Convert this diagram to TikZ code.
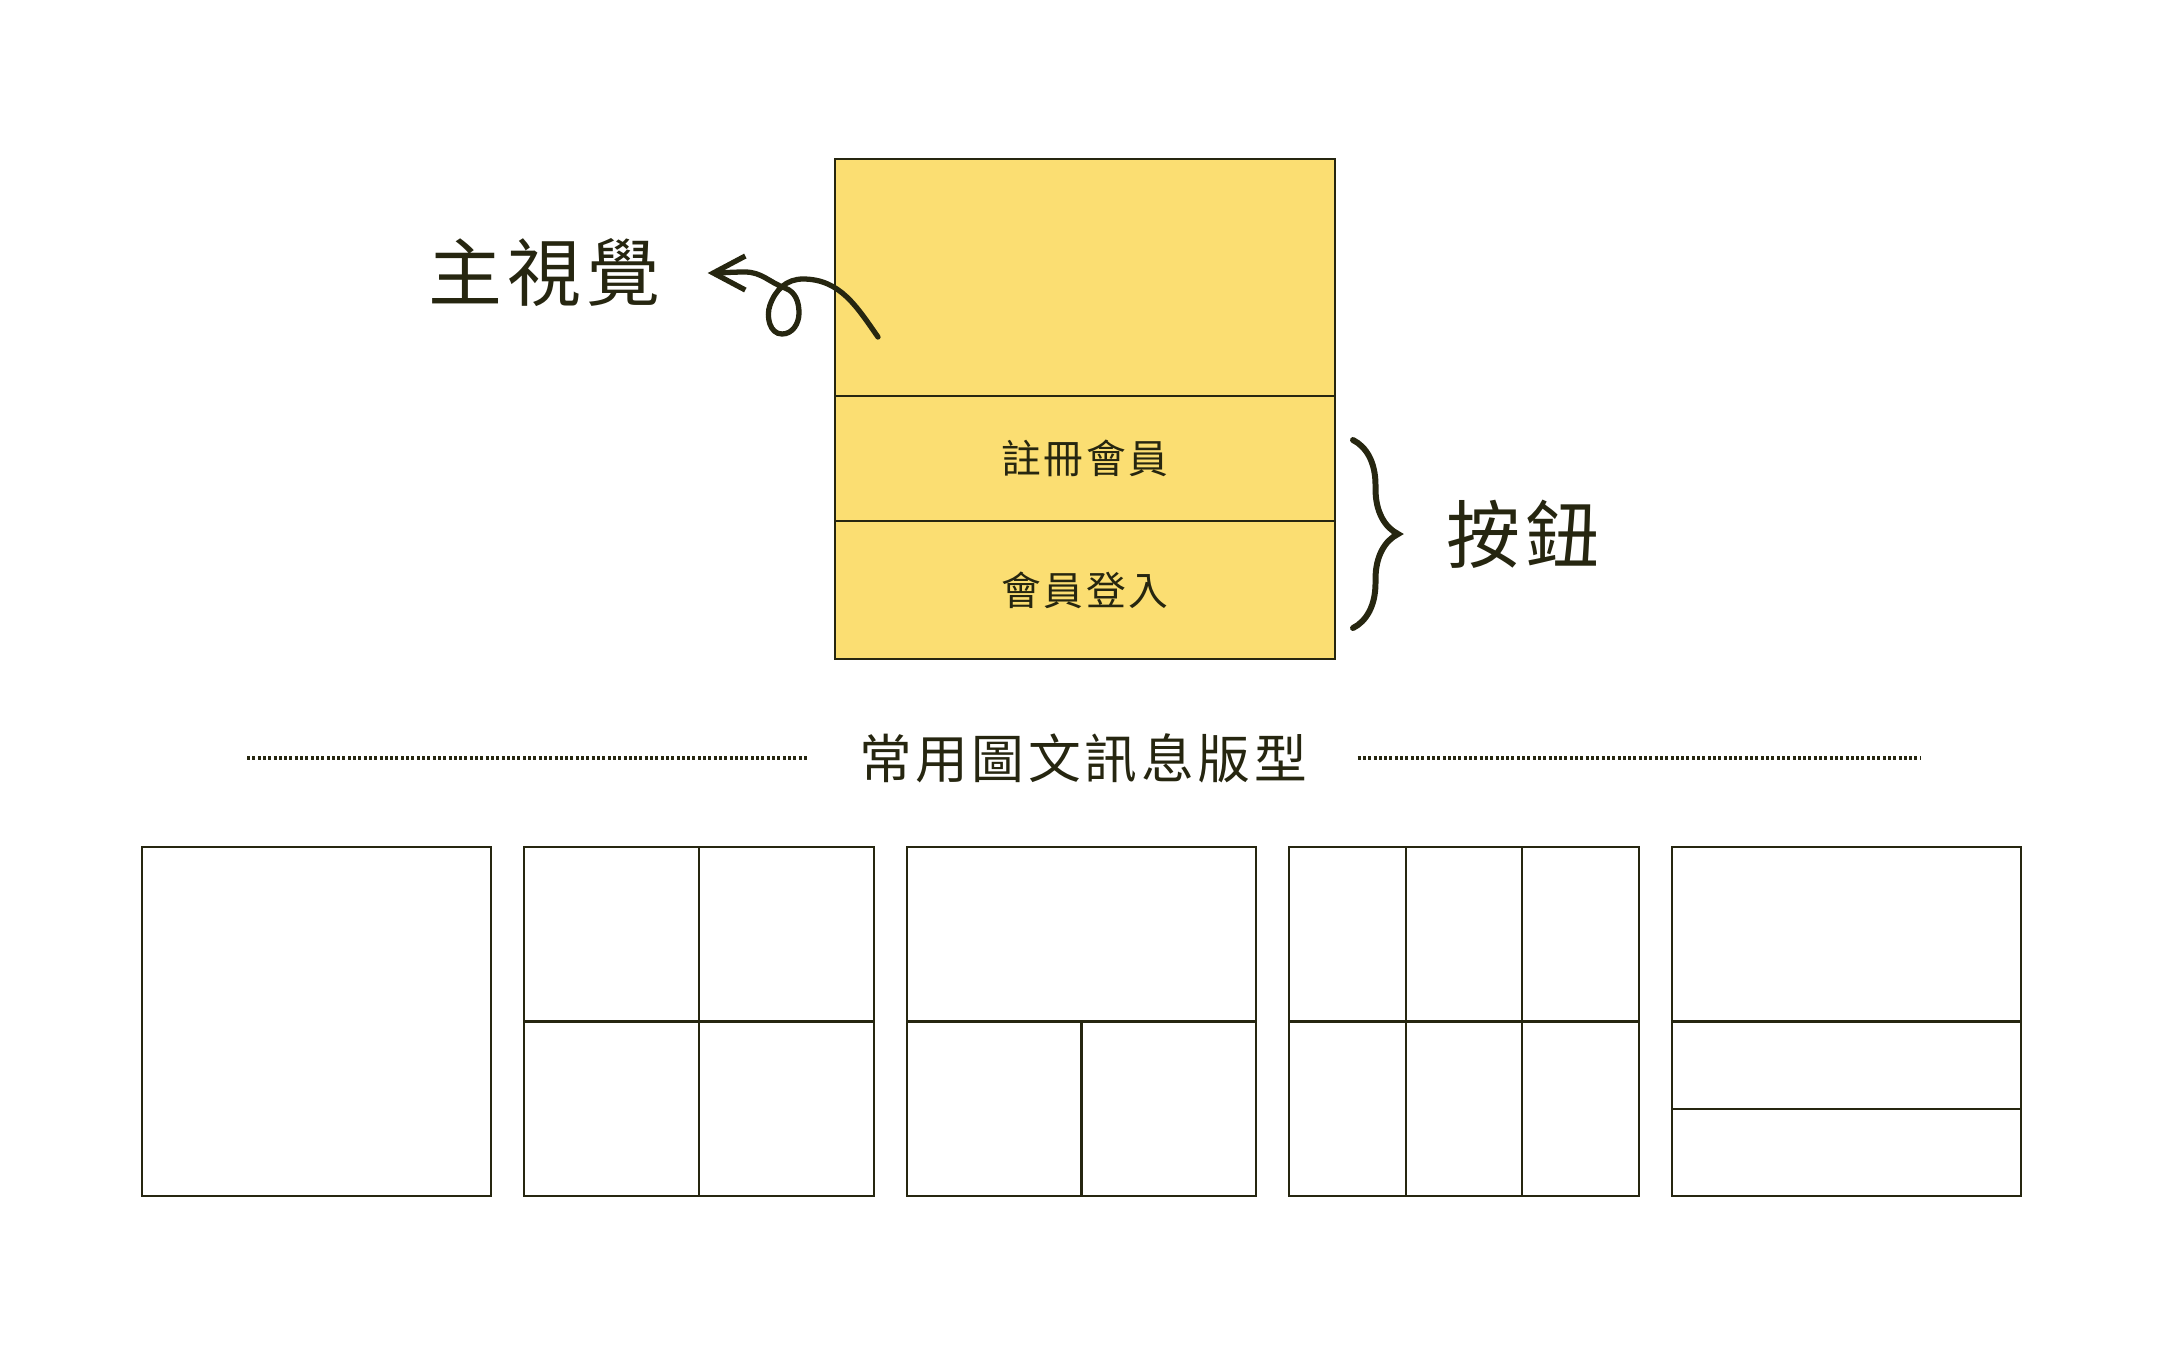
\documentclass[tikz,border=0pt]{standalone}
\usepackage{fontspec}
\newfontfamily\cjk[LetterSpace=7]{Noto Sans CJK TC}
\usetikzlibrary{positioning, calc, arrows.meta, decorations.pathreplacing}
\definecolor{ink}{RGB}{38,38,16}
\definecolor{banana}{RGB}{251,222,114}
\tikzset{
  panel/.style={
    minimum width=5cm,
    inner sep=0pt, outer sep=0pt,
    draw=ink, fill=banana, line width=0.6pt,
    font=\cjk\fontsize{11.3}{13}\selectfont,
  },
  layout/.style={
    minimum size=3.49cm,
    inner sep=0pt, outer sep=0pt,
    draw=ink, line width=0.6pt,
  },
  split/.style={
    draw=ink, line width=0.6pt,
  },
  doodle/.style={
    draw=ink, line width=1.5pt, line cap=round,
  },
  rule/.style={
    draw=ink, line width=0.36mm, dash pattern=on 0.3mm off 0.23mm,
  },
  big label/.style={
    font=\cjk\fontsize{21}{25}\selectfont,
  },
}

\begin{document}
\begin{tikzpicture}[x=0.01cm, y=-0.01cm, text=ink]
\useasboundingbox (0,0) rectangle (2160,1350);

\node[panel, minimum height=2.37cm] (hero) at (1085,277.5) {};
\node[panel, minimum height=1.25cm, below=0pt of hero] (signup) {註冊會員};
\node[panel, minimum height=1.38cm, below=0pt of signup] (login) {會員登入};

\node[big label, inner xsep=0.47cm] (visual) at (544,273) {主視覺};
\coordinate (tail) at (878,337);
\draw[doodle, -{Straight Barb[length=3.2mm, width=3.4mm]}] (tail)
  to[out=125, in=0] (803,279)
  to[out=180, in=70] (770,305)
  to[out=250, in=180] (782,334)
  to[out=0, in=-90] (799,313)
  to[out=90, in=-20] (785,288)
  to[out=160, in=0] (745,272)
  to[out=180, in=0] (visual.east);

\coordinate (brace-top) at (1353,440);
\coordinate (brace-bot) at (1353,628);
\draw[doodle, line width=1.7pt, decorate, decoration={brace, amplitude=4.5mm}]
  (brace-top) -- (brace-bot);
\node[big label] (buttons) at (1523,534) {按鈕};

\node[inner xsep=5mm, font=\cjk\fontsize{15}{18}\selectfont] (heading) at (1083,758) {常用圖文訊息版型};
\coordinate (rule-l) at (247,758);
\coordinate (rule-r) at (1921,758);
\draw[rule] (rule-l) -- (heading.west);
\draw[rule] (heading.east) -- (rule-r);

\foreach \i in {0,...,4}
  \node[layout] (grid-\i) at (316.5+382.5*\i, 1021.5) {};

\draw[split] (grid-1.north) -- (grid-1.south);
\draw[split] (grid-1.west) -- (grid-1.east);
\draw[split] (grid-2.west) -- (grid-2.east);
\draw[split] (grid-2.center) -- (grid-2.south);
\draw[split] (grid-3.west) -- (grid-3.east);
\foreach \t in {1,2}
  \draw[split] ($(grid-3.north west)!\t/3!(grid-3.north east)$)
    -- ($(grid-3.south west)!\t/3!(grid-3.south east)$);
\foreach \t in {0.5,0.75}
  \draw[split] ($(grid-4.north west)!\t!(grid-4.south west)$)
    -- ($(grid-4.north east)!\t!(grid-4.south east)$);
\end{tikzpicture}
\end{document}
